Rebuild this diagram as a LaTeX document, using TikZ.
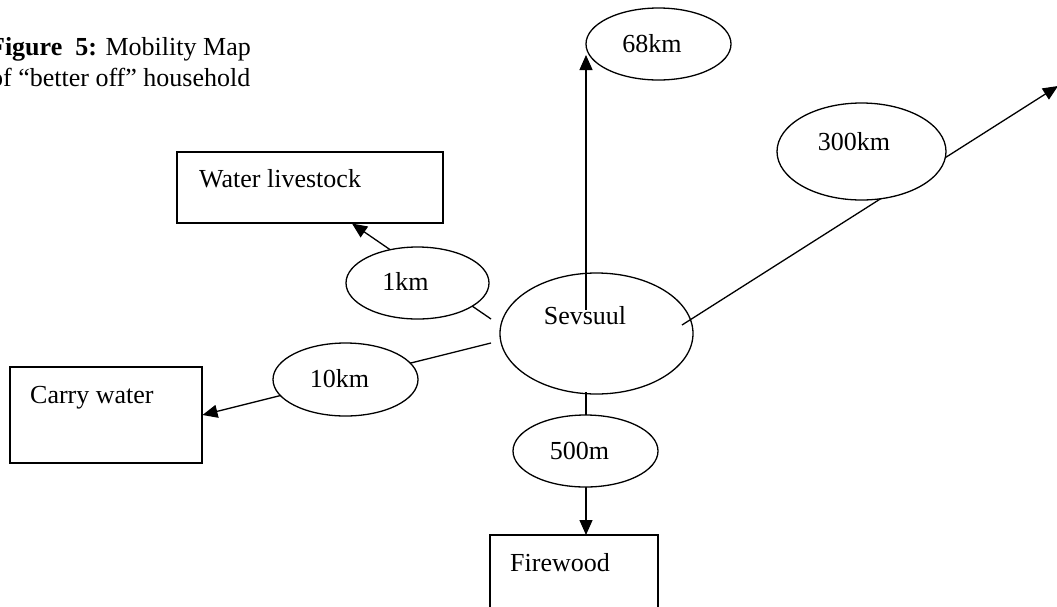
\documentclass[tikz,border=0pt]{standalone}
\usepackage{fontspec}
\setmainfont{Liberation Serif}
\usetikzlibrary{arrows.meta,shapes.geometric}
\pgfdeclarelayer{back}
\pgfdeclarelayer{lines}
\pgfsetlayers{back,lines,main}
\begin{document}
\begin{tikzpicture}[x=1pt,y=-1pt,
  ell/.style={ellipse, draw, fill=white, line width=1.3pt, inner sep=0pt},
  boxr/.style={rectangle, draw, fill=white, line width=1.3pt, inner sep=0pt},
  txt/.style={font=\fontsize{26}{31}\selectfont, inner sep=0pt},
  conn/.style={line width=1.3pt},
  arr/.style={conn, -{Triangle[length=15pt,width=13pt]}}]
\useasboundingbox (0,0) rectangle (1057,606);
\clip (0,0) rectangle (1057,606);

% caption
\node[txt, anchor=base east] (cap1) at (251,55) {\textbf{Figure\ \ 5:} Mobility Map};
\node[txt, anchor=base east] (cap2) at (250.5,86.7) {of “better off” household};

% central ellipse (below the connectors)
\begin{pgfonlayer}{back}
\node[ell, minimum width=193pt, minimum height=121pt] (sev) at (596.5,333.5) {};
\end{pgfonlayer}
\node[txt, anchor=base] (tsev) at (585,324) {Sevsuul};

% distance ellipses
\node[ell, minimum width=143pt, minimum height=72pt] (e1) at (417.5,283) {};
\node[txt, anchor=base] (t1) at (405.5,290) {1km};
\node[ell, minimum width=145pt, minimum height=73pt] (e10) at (345.5,379.5) {};
\node[txt, anchor=base] (t10) at (339.5,387) {10km};
\node[ell, minimum width=145pt, minimum height=72pt] (e500) at (585.5,451) {};
\node[txt, anchor=base] (t500) at (579.5,459) {500m};
\node[ell, minimum width=145pt, minimum height=72pt] (e68) at (658.5,44) {};
\node[txt, anchor=base] (t68) at (652,52) {68km};
\node[ell, minimum width=169pt, minimum height=97pt] (e300) at (861.5,151.5) {};
\node[txt, anchor=base] (t300) at (854,150) {300km};

% destination boxes
\node[boxr, minimum width=266pt, minimum height=71pt] (wl) at (310,187.5) {};
\node[txt, anchor=base west] (twl) at (199,187) {Water livestock};
\node[boxr, minimum width=192pt, minimum height=96pt] (cw) at (106,415) {};
\node[txt, anchor=base west] (tcw) at (30,403) {Carry water};
\node[boxr, minimum width=168pt, minimum height=105pt] (fw) at (574,587.5) {};
\node[txt, anchor=base west] (tfw) at (510,571) {Firewood};

% connector end points
\coordinate (c1s) at (491,319);
\coordinate (c1e) at (352,223.5);
\coordinate (c10s) at (491,343);
\coordinate (c10e) at (202.5,415);
\coordinate (c68s) at (586,310);
\coordinate (c68e) at (586,55);
\coordinate (c300s) at (682,325);
\coordinate (c300e) at (1058,86);
\coordinate (c500s) at (586,392);
\coordinate (c500e) at (586,535);

\begin{pgfonlayer}{lines}
\draw[arr] (c1s) -- (c1e);
\draw[arr] (c10s) -- (c10e);
\draw[arr] (c68s) -- (c68e);
\draw[arr] (c300s) -- (c300e);
\draw[arr] (c500s) -- (c500e);
\end{pgfonlayer}
\end{tikzpicture}
\end{document}
